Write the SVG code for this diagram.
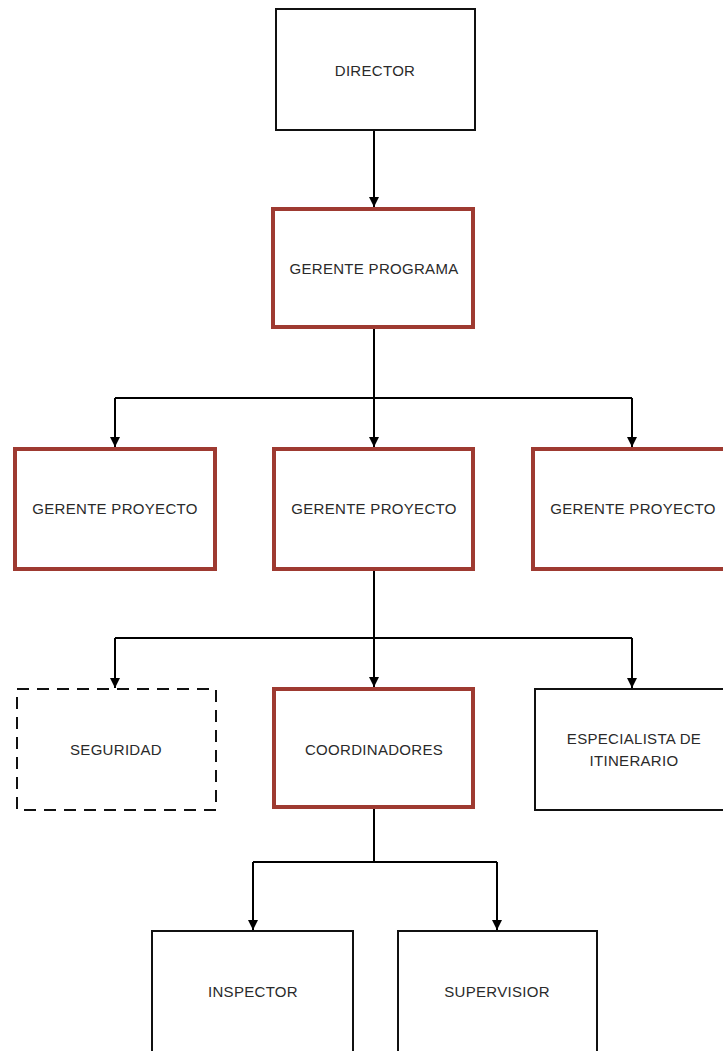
<svg xmlns="http://www.w3.org/2000/svg" width="723" height="1051" viewBox="0 0 723 1051">
  <style>
    .box { fill: #ffffff; stroke: #111111; stroke-width: 2; }
    .key { fill: #ffffff; stroke: #9e3a31; stroke-width: 4; }
    .dash { fill: #ffffff; stroke: #111111; stroke-width: 2; stroke-dasharray: 12 8; }
    .lbl { font-family: "Liberation Sans", Arial, sans-serif; font-size: 15px; letter-spacing: 0.3px; fill: #2a2a2a; text-anchor: middle; dominant-baseline: central; }
    .link { fill: none; stroke: #000000; stroke-width: 2; marker-end: url(#arrow); }
    .trunk { fill: none; stroke: #000000; stroke-width: 2; }
  </style>
  <defs>
    <marker id="arrow" viewBox="0 0 10 10" refX="10" refY="5" markerWidth="10" markerHeight="10" markerUnits="userSpaceOnUse" orient="auto">
      <path d="M0,0 L10,5 L0,10 z" fill="#000000"/>
    </marker>
  </defs>

  <g id="connectors">
    <path class="link" d="M374,130 V207"/>
    <path class="trunk" d="M374,328 V398 M115,398 H632"/>
    <path class="link" d="M115,398 V447"/>
    <path class="link" d="M374,398 V447"/>
    <path class="link" d="M632,398 V447"/>
    <path class="trunk" d="M374,570 V638 M115,638 H632"/>
    <path class="link" d="M115,638 V688"/>
    <path class="link" d="M374,638 V687"/>
    <path class="link" d="M632,638 V688"/>
    <path class="trunk" d="M374,808 V862 M253,862 H497"/>
    <path class="link" d="M253,862 V930"/>
    <path class="link" d="M497,862 V930"/>
  </g>

  <g id="director">
    <rect class="box" x="276" y="9" width="199" height="121"/>
    <text class="lbl" x="375" y="70">DIRECTOR</text>
  </g>
  <g id="gerente-programa">
    <rect class="key" x="273" y="209" width="200" height="118"/>
    <text class="lbl" x="374" y="268">GERENTE PROGRAMA</text>
  </g>
  <g id="gerente-proyecto-1">
    <rect class="key" x="15" y="449" width="200" height="120"/>
    <text class="lbl" x="115" y="508">GERENTE PROYECTO</text>
  </g>
  <g id="gerente-proyecto-2">
    <rect class="key" x="274" y="449" width="199" height="120"/>
    <text class="lbl" x="374" y="508">GERENTE PROYECTO</text>
  </g>
  <g id="gerente-proyecto-3">
    <rect class="key" x="533" y="449" width="194" height="120"/>
    <text class="lbl" x="633" y="508">GERENTE PROYECTO</text>
  </g>
  <g id="seguridad">
    <rect class="dash" x="17" y="689" width="199" height="121"/>
    <text class="lbl" x="116" y="749">SEGURIDAD</text>
  </g>
  <g id="coordinadores">
    <rect class="key" x="274" y="689" width="199" height="118"/>
    <text class="lbl" x="374" y="749">COORDINADORES</text>
  </g>
  <g id="especialista">
    <rect class="box" x="535" y="689" width="194" height="121"/>
    <text class="lbl" x="634" y="738">ESPECIALISTA DE</text>
    <text class="lbl" x="634" y="760">ITINERARIO</text>
  </g>
  <g id="inspector">
    <rect class="box" x="152" y="931" width="201" height="130"/>
    <text class="lbl" x="253" y="991">INSPECTOR</text>
  </g>
  <g id="supervisior">
    <rect class="box" x="398" y="931" width="199" height="130"/>
    <text class="lbl" x="497" y="991">SUPERVISIOR</text>
  </g>
</svg>
